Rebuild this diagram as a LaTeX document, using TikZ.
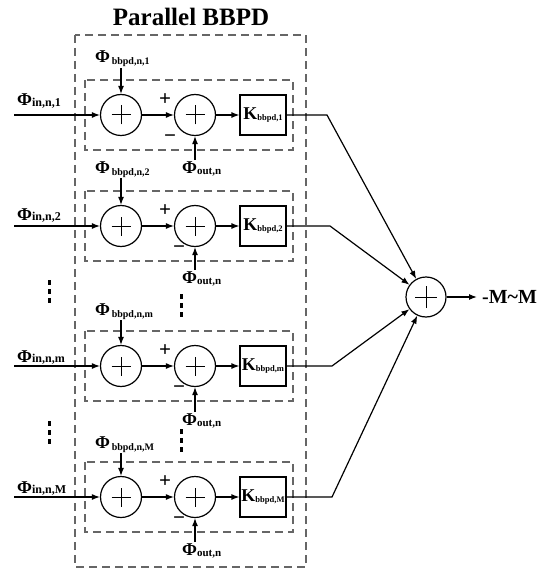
\documentclass[tikz,border=0pt]{standalone}
\usepackage{fontspec}
\setmainfont{Liberation Serif}
\usetikzlibrary{arrows.meta,calc}
\newcommand\phil[3]{\bfseries{\fontsize{18}{18}\selectfont Φ}\raisebox{-#3}{\fontsize{#1}{#1}\selectfont #2}}
\newcommand\klab[1]{\bfseries{\fontsize{18}{18}\selectfont K}\raisebox{-1pt}{\fontsize{8.5}{8.5}\selectfont #1}}
\tikzset{
  x=1pt, y=-1pt,
  wire/.style={line width=1.2pt},
  arr/.style={line width=1.2pt, -{Latex[length=8pt,width=6pt]}},
  sumc/.style={circle, draw, line width=1.2pt, minimum size=41pt, inner sep=0pt,
    path picture={\draw[line width=1pt]
      ([xshift=-#1]path picture bounding box.center) -- ([xshift=#1]path picture bounding box.center)
      ([yshift=-#1]path picture bounding box.center) -- ([yshift=#1]path picture bounding box.center);}},
  sumc/.default=9.5pt,
  kbox/.style={draw, line width=1.2pt, minimum width=46pt, minimum height=40pt, inner sep=0pt},
  dbox/.style={draw=black!60, line width=1.1pt, dash pattern=on 8pt off 5pt},
  lab/.style={inner sep=1pt, anchor=base west},
  sign/.style={inner sep=0pt, font=\bfseries\fontsize{21}{21}\selectfont},
  vdots/.style={line width=3pt, dash pattern=on 5pt off 4pt},
}
\begin{document}
\begin{tikzpicture}
\useasboundingbox (0,0) rectangle (555,572);

\node (title) at (191,17) {\bfseries\fontsize{25}{25}\selectfont Parallel BBPD};
\draw[dbox] (75,35) rectangle (306,567);

% rows: name / signal y / minus x / bbpd baseline / out baseline / in baseline / bend x / subs
\foreach \r/\y/\mx/\bl/\ol/\il/\bx/\s in {
  1/115/170/63/173/106/327/1,
  2/226/179/173/283/220/330/2,
  3/366/179/315/425/362/332/m,
  4/497/179/448/555/493/332/M}{
  \draw[dbox] (85,\y-35) rectangle (293,\y+35);
  \node[sumc] (a\r) at (121,\y) {};
  \node[sumc] (b\r) at (195,\y) {};
  \node[kbox] (k\r) at (263,\y) {\klab{bbpd,\s}};
  \node[lab] (in\r) at (16,\il) {\phil{12}{in,n,\s}{0.3pt}};
  \node[lab] (bb\r) at (94,\bl) {\phil{10}{\,bbpd,n,\s}{2pt}};
  \node[lab] (out\r) at (181,\ol) {\phil{11}{out,n}{1.5pt}};
  \node[sign] (p\r) at (165,\y-15) {+};
  \node[sign] (m\r) at (\mx,\y+24) {−};
  \coordinate (s\r) at (14,\y);
  \coordinate (t\r) at (\bx,\y);
  \draw[arr] (s\r) -- (a\r);
  \draw[arr] (bb\r.south -| a\r) -- (a\r.north);
  \draw[arr] (a\r) -- (b\r);
  \draw[arr] (out\r.north -| b\r) -- (b\r.south);
  \draw[arr] (b\r) -- (k\r);
}

\node[sumc=11pt, minimum size=40pt] (sum) at (426,297) {};
\foreach \r in {1,2,3,4}{
  \draw[arr] (k\r.east) -- (t\r) -- (sum);
}
\coordinate (o) at (477,297);
\draw[arr] (sum) -- (o);
\node[anchor=west, inner sep=0pt] (res) at (482,297) {\bfseries\fontsize{20}{20}\selectfont -M\textasciitilde M};

% vertical dots
\coordinate (d1a) at (49,280); \coordinate (d1b) at (49,303);
\coordinate (d2a) at (49,421); \coordinate (d2b) at (49,444);
\coordinate (d3a) at (181,294); \coordinate (d3b) at (181,317);
\coordinate (d4a) at (181,429); \coordinate (d4b) at (181,452);
\draw[vdots] (d1a) -- (d1b);
\draw[vdots] (d2a) -- (d2b);
\draw[vdots] (d3a) -- (d3b);
\draw[vdots] (d4a) -- (d4b);
\end{tikzpicture}
\end{document}
